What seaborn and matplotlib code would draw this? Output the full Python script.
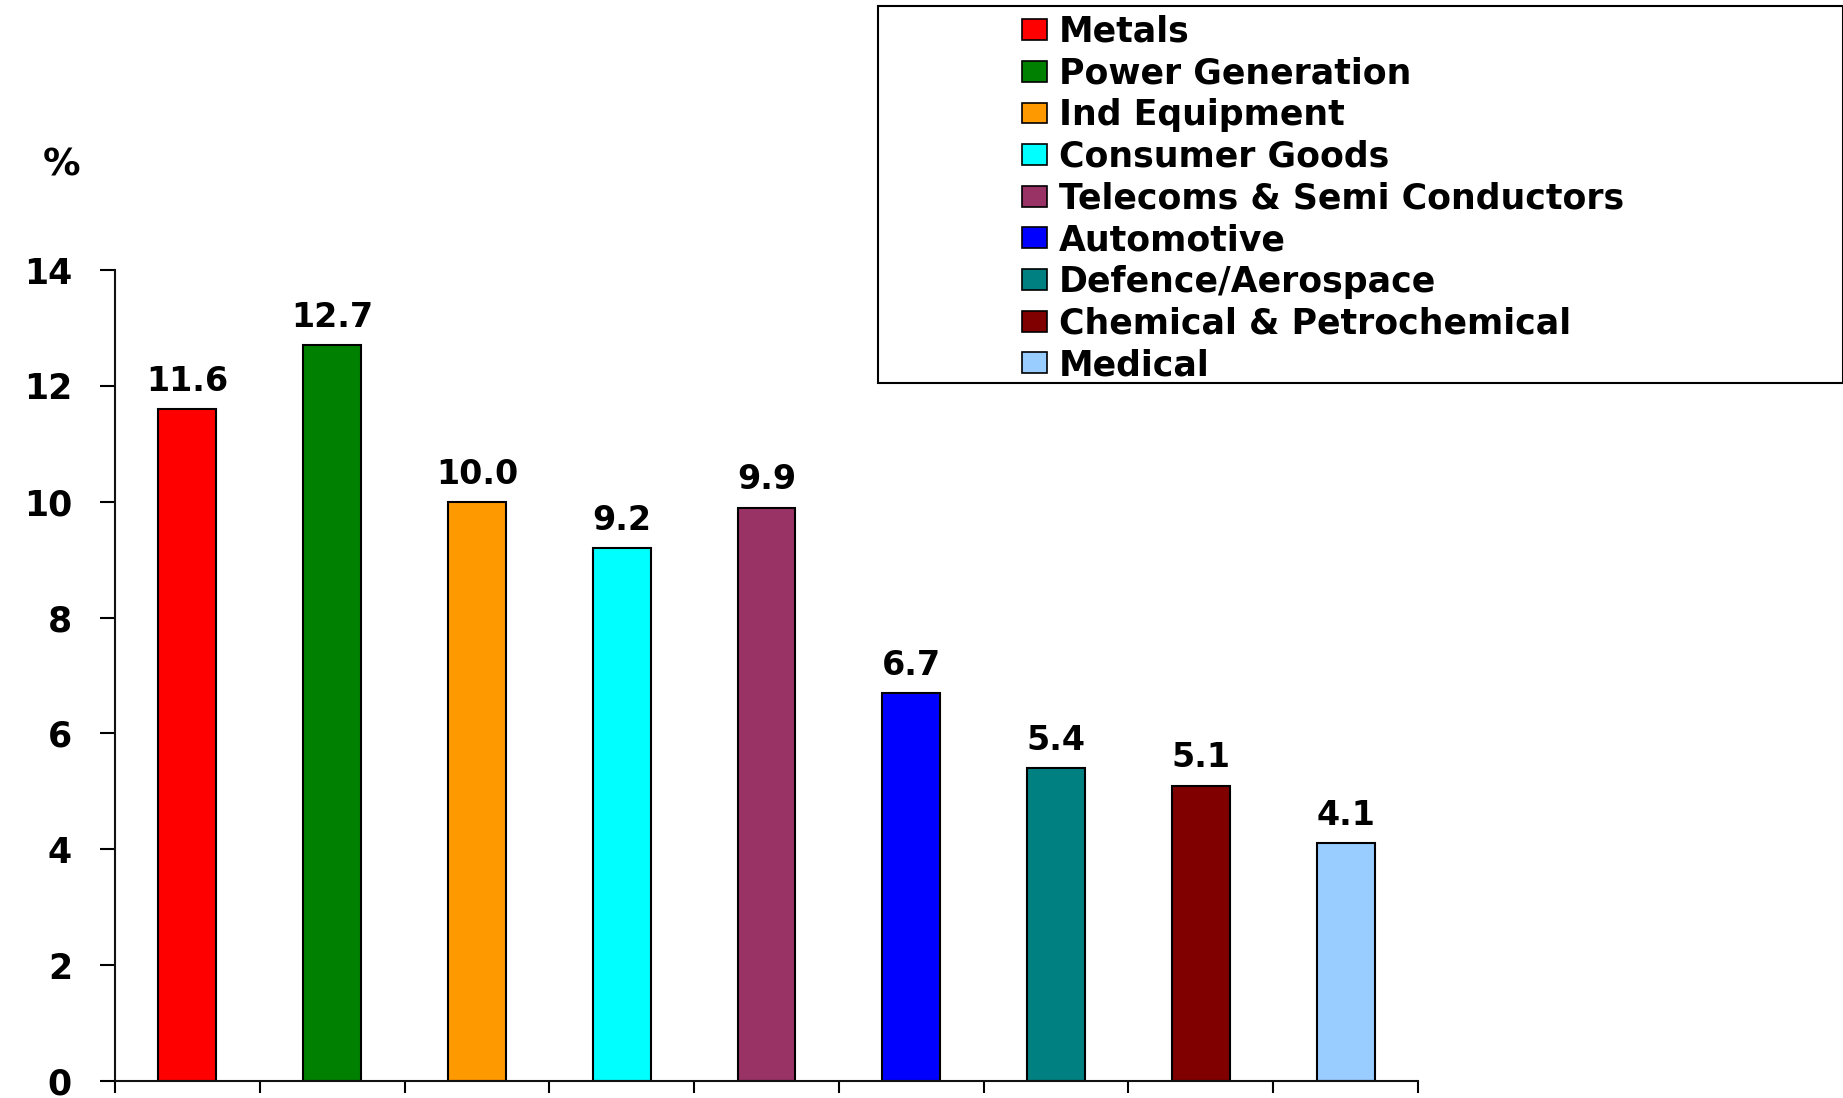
import matplotlib
matplotlib.use("Agg")
import matplotlib.pyplot as plt
from matplotlib.patches import Patch, Rectangle
import seaborn as sns
import pandas as pd

categories = ["Metals", "Power Generation", "Ind Equipment", "Consumer Goods",
              "Telecoms & Semi Conductors", "Automotive", "Defence/Aerospace",
              "Chemical & Petrochemical", "Medical"]
values = [11.6, 12.7, 10.0, 9.2, 9.9, 6.7, 5.4, 5.1, 4.1]
colors = ["#FF0000", "#008000", "#FF9900", "#00FFFF", "#993366",
          "#0000FF", "#008080", "#800000", "#99CCFF"]
yticks = [0, 2, 4, 6, 8, 10, 12, 14]

sns.set_theme(style="white")
plt.rcParams["font.family"] = ["DejaVu Sans"]
plt.rcParams["font.weight"] = "bold"
plt.rcParams["text.color"] = "black"
plt.rcParams["ytick.color"] = "black"
plt.rcParams["xtick.color"] = "black"

df = pd.DataFrame({"sector": categories, "pct": values})

fig = plt.figure(figsize=(18.43, 10.98), dpi=100)
ax = fig.add_axes([115 / 1843, 17 / 1098, (1418 - 115) / 1843, (1081 - 270) / 1098])

sns.barplot(data=df, x="sector", y="pct", hue="sector", order=categories,
            hue_order=categories, palette=colors, saturation=1, width=0.4,
            dodge=False, edgecolor="black", linewidth=1.5, legend=False, ax=ax)

for cont in ax.containers:
    ax.bar_label(cont, fmt="%.1f", padding=8, fontsize=24, fontweight="bold",
                 color="black")

ax.set_xlim(-0.5, len(categories) - 0.5)
ax.set_ylim(0, 14)
ax.set_yticks(yticks)
ax.set_yticklabels([str(t) for t in yticks], fontsize=25, fontweight="bold")
ax.set_xticks([i - 0.5 for i in range(len(categories) + 1)])
ax.set_xticklabels([])
ax.set_xlabel("")
ax.set_ylabel("")
ax.tick_params(axis="y", direction="out", length=11, width=1.5, pad=20,
               left=True, color="black", labelcolor="black")
ax.tick_params(axis="x", direction="out", length=8.5, width=1.5,
               bottom=True, color="black")
for side in ["top", "right"]:
    ax.spines[side].set_visible(False)
for side in ["left", "bottom"]:
    ax.spines[side].set_color("#111111")
    ax.spines[side].set_linewidth(1.5)

fig.text(62 / 1843, 1 - 165 / 1098, "%", fontsize=27, fontweight="bold",
         ha="center", va="center", color="black")

# legend frame spanning to the right edge
fig.patches.append(Rectangle((878 / 1843, 1 - 383 / 1098), (1843 - 878) / 1843,
                             (383 - 6) / 1098, transform=fig.transFigure,
                             facecolor="white", edgecolor="black", linewidth=1.5,
                             zorder=0))
handles = [Patch(facecolor=c, edgecolor="black", linewidth=1.2) for c in colors]
leg = fig.legend(handles, categories, loc="upper left",
                 bbox_to_anchor=(1022 / 1843, 1 - 15 / 1098), frameon=False,
                 prop={"weight": "bold", "size": 25},
                 handlelength=0.72, handleheight=0.55, handletextpad=0.35,
                 labelspacing=0.22, borderpad=0, borderaxespad=0)
for t in leg.get_texts():
    t.set_color("black")

fig.savefig("out.png", dpi=100)
